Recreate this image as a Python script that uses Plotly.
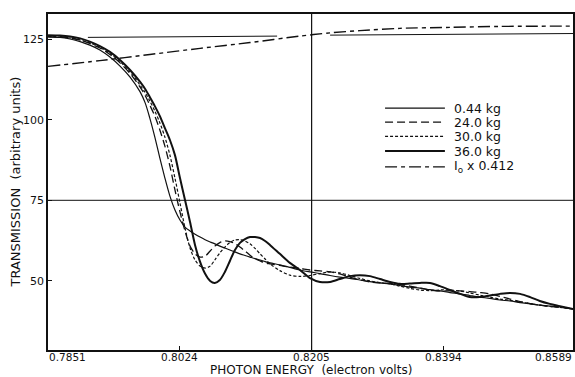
import plotly.graph_objects as go

HC = 1.23984  # eV * micrometre; the energy scale in the figure is linear in wavelength

# ---- tick labels (photon energy, eV) ----
energy_ticks = [0.7851, 0.8024, 0.8205, 0.8394, 0.8589]
tick_labels = ["0.7851", "0.8024", "0.8205", "0.8394", "0.8589"]
y_ticks = [50, 75, 100, 125]

# ---- sample positions (wavelength, micrometre) ----
wavelength_um = [1.5792, 1.5761, 1.5735, 1.5709, 1.5684, 1.5658, 1.5632, 1.5606, 1.5580, 1.5554,
                 1.5541, 1.5529, 1.5516, 1.5503, 1.5490, 1.5477, 1.5464, 1.5451, 1.5438, 1.5425,
                 1.5412, 1.5399, 1.5386, 1.5373, 1.5361, 1.5348, 1.5335, 1.5322, 1.5309, 1.5296,
                 1.5283, 1.5270, 1.5257, 1.5244, 1.5231, 1.5218, 1.5193, 1.5167, 1.5141, 1.5115,
                 1.5089, 1.5063, 1.5038, 1.5012, 1.4986, 1.4960, 1.4934, 1.4908, 1.4883, 1.4857,
                 1.4831, 1.4805, 1.4779, 1.4753, 1.4727, 1.4702, 1.4676, 1.4650, 1.4624, 1.4598,
                 1.4572, 1.4546, 1.4521, 1.4495, 1.4469, 1.4435]

# ---- transmission (arbitrary units) ----
t_044 = [125.6, 125.5, 125.0, 124.2, 123.1, 121.6, 119.4, 116.6, 113.2, 108.6,
         105.2, 100.5, 94.6, 88.1, 81.9, 76.3, 72.0, 68.9, 66.7, 65.5,
         64.5, 63.6, 62.8, 62.1, 61.5, 60.8, 60.2, 59.6, 59.0, 58.4,
         57.9, 57.4, 56.9, 56.5, 56.0, 55.6, 55.0, 54.2, 53.4, 52.8,
         52.3, 51.7, 51.2, 50.8, 50.3, 49.8, 49.4, 49.1, 48.6, 48.1,
         47.8, 47.3, 46.9, 46.4, 46.0, 45.5, 45.0, 44.6, 44.1, 43.8,
         43.3, 42.9, 42.5, 42.2, 42.0, 41.3]

t_240 = [125.9, 125.8, 125.3, 124.7, 123.6, 122.2, 120.2, 117.6, 114.3, 110.1,
         107.5, 104.5, 101.1, 96.8, 91.8, 85.6, 78.2, 71.4, 65.5, 60.8,
         58.4, 57.4, 57.7, 59.3, 60.8, 61.9, 62.4, 62.2, 61.6, 60.5,
         59.3, 58.0, 56.9, 56.2, 55.6, 55.3, 54.8, 54.3, 53.9, 53.4,
         53.1, 52.8, 52.2, 51.2, 50.3, 49.7, 49.4, 49.2, 48.9, 48.4,
         47.8, 47.2, 46.9, 46.9, 46.9, 46.7, 46.4, 46.0, 45.2, 44.4,
         43.6, 43.0, 42.5, 42.1, 41.8, 41.3]

t_300 = [125.8, 125.6, 125.3, 124.7, 123.8, 122.4, 120.5, 118.0, 114.8, 110.7,
         108.4, 105.8, 102.7, 99.0, 94.6, 89.0, 81.9, 74.2, 66.4, 60.2,
         56.5, 54.6, 54.0, 54.6, 56.5, 58.7, 60.5, 61.9, 62.7, 62.8,
         62.4, 61.5, 60.1, 58.4, 56.8, 55.3, 53.2, 51.8, 51.4, 51.7,
         52.3, 52.8, 52.5, 51.7, 50.8, 50.0, 49.5, 49.1, 48.4, 47.7,
         47.2, 47.0, 47.2, 47.2, 46.9, 46.3, 45.6, 45.0, 44.4, 44.0,
         43.5, 43.0, 42.5, 42.1, 41.8, 41.3]

t_360 = [126.2, 126.1, 125.8, 125.2, 124.2, 122.8, 121.0, 118.5, 115.4, 111.7,
         109.5, 107.0, 104.2, 101.1, 97.4, 93.7, 89.0, 81.9, 75.1, 68.3,
         61.1, 55.9, 52.2, 50.0, 49.4, 50.3, 52.8, 56.2, 59.6, 61.8,
         63.0, 63.6, 63.6, 63.3, 62.4, 61.1, 58.4, 55.6, 53.4, 50.9,
         49.7, 49.7, 50.6, 51.5, 51.8, 51.5, 50.6, 49.7, 49.1, 49.2,
         49.4, 49.4, 48.4, 47.2, 46.0, 45.0, 45.0, 45.5, 46.0, 46.3,
         46.0, 45.0, 43.8, 42.9, 42.2, 41.3]

# incident intensity scaled by 0.412
io_wavelength_um = [1.5792, 1.5658, 1.5529, 1.5399, 1.5270, 1.5141, 1.5063, 1.4986, 1.4883, 1.4753, 1.4624, 1.4435]
io_scaled = [116.5, 118.3, 120.2, 122.1, 123.9, 125.9, 126.9, 127.6, 128.3, 128.6, 128.9, 129.0]

# thin reference line near the top (drawn in two pieces)
ref_wavelength_um = [1.5689, 1.5200, None, 1.5063, 1.4435]
ref_level = [125.5, 125.9, None, 126.2, 126.7]

series_names = ["0.44 kg", "24.0 kg", "30.0 kg", "36.0 kg", "I<sub>o</sub> x 0.412"]

FONT = "DejaVu Sans"
BLACK = "#111111"

styles = [  # (width, dash)
    (1.2, "solid"),
    (1.3, "8px,4px"),
    (1.2, "3px,2px"),
    (2.0, "solid"),
    (1.4, "12px,4px,4px,4px"),
]

fig = go.Figure()
series = [(wavelength_um, t_044), (wavelength_um, t_240), (wavelength_um, t_300),
          (wavelength_um, t_360), (io_wavelength_um, io_scaled)]
for (x, y), name, (w, d) in zip(series, series_names, styles):
    fig.add_trace(go.Scatter(
        x=x, y=y, name=name, mode="lines", showlegend=False,
        line=dict(color=BLACK, width=w, dash=d, shape="spline", smoothing=0.8)))
fig.add_trace(go.Scatter(x=ref_wavelength_um, y=ref_level, mode="lines", showlegend=False,
                         line=dict(color=BLACK, width=1.0), connectgaps=False))

tick_wl = [HC / e for e in energy_ticks]
x_lo, x_hi = tick_wl[0], tick_wl[-1]
y_lo, y_hi = 28.6, 132.75

# grid lines at 75 and at 0.8205 eV
fig.add_shape(type="line", xref="x", yref="y", x0=x_lo, x1=x_hi, y0=75, y1=75,
              line=dict(color=BLACK, width=1.0))
fig.add_shape(type="line", xref="x", yref="y", x0=tick_wl[2], x1=tick_wl[2], y0=y_lo, y1=y_hi,
              line=dict(color=BLACK, width=1.2))

# legend (compact, as in the original figure)
leg_x0, leg_x1, leg_tx = 0.642, 0.756, 0.770
leg_rows = [0.720, 0.678, 0.636, 0.592, 0.545]
for name, (w, d), ly in zip(series_names, styles, leg_rows):
    fig.add_shape(type="line", xref="paper", yref="paper", x0=leg_x0, x1=leg_x1, y0=ly, y1=ly,
                  line=dict(color=BLACK, width=w, dash=d))
    fig.add_annotation(x=leg_tx, y=ly, xref="paper", yref="paper", text=name, showarrow=False,
                       xanchor="left", yanchor="middle",
                       font=dict(family=FONT, size=12.5, color=BLACK))

# x tick labels as annotations (first left-aligned, last right-aligned)
anchors = ["left", "center", "center", "center", "right"]
for wl, lab, anc in zip(tick_wl, tick_labels, anchors):
    fig.add_annotation(x=wl, y=0, xref="x", yref="paper", text=lab, showarrow=False,
                       xanchor=anc, yanchor="top", yshift=0, borderpad=0,
                       font=dict(family=FONT, size=10.5, color=BLACK))

# axis titles
fig.add_annotation(x=0.5, y=0, xref="paper", yref="paper", text="PHOTON ENERGY  (electron volts)",
                   showarrow=False, xanchor="center", yanchor="middle", yshift=-19.5, borderpad=0,
                   font=dict(family=FONT, size=12, color=BLACK))
fig.add_annotation(x=0, y=0.5, xref="paper", yref="paper", text="TRANSMISSION  (arbitrary units)",
                   showarrow=False, xanchor="right", yanchor="middle", xshift=-24, textangle=-90,
                   font=dict(family=FONT, size=13, color=BLACK))

fig.update_layout(
    width=575, height=377,
    margin=dict(l=48, r=2, t=14, b=27, autoexpand=False),
    paper_bgcolor="white", plot_bgcolor="white",
    font=dict(family=FONT, color=BLACK),
    showlegend=False,
)
fig.update_xaxes(range=[x_lo, x_hi], tickvals=tick_wl, ticktext=tick_labels,
                 showticklabels=False, ticks="inside", ticklen=4, tickcolor=BLACK,
                 showline=True, linecolor=BLACK, linewidth=1.5, mirror=True,
                 showgrid=False, zeroline=False, automargin=False)
fig.update_yaxes(range=[y_lo, y_hi], tickvals=y_ticks,
                 ticks="inside", ticklen=4, tickcolor=BLACK,
                 tickfont=dict(family=FONT, size=11, color=BLACK),
                 showline=True, linecolor=BLACK, linewidth=1.5, mirror=True,
                 showgrid=False, zeroline=False, automargin=False)

fig.write_html("out.html", config={"displayModeBar": False},
               post_script="document.body.style.margin='0px';")
